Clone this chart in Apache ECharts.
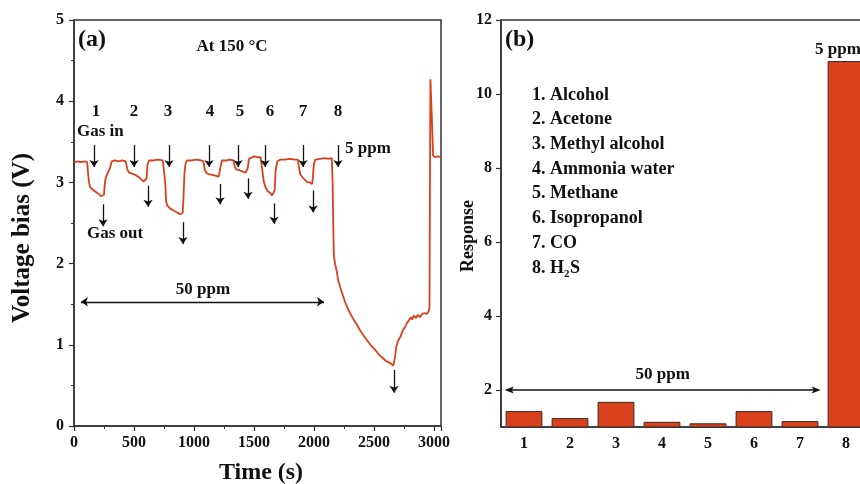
<!DOCTYPE html>
<html>
<head>
<meta charset="utf-8">
<script src="https://cdn.jsdelivr.net/npm/echarts@6/dist/echarts.min.js"></script>
<style>
html, body { margin: 0; padding: 0; background: #ffffff; }
#chart { width: 860px; height: 484px; }
</style>
</head>
<body>
<div id="chart"></div>
<script>
// ---- Panel (a): voltage bias transient at 150 °C ----
const timeS = [
  0, 30, 60, 90, 110, 118, 125, 135, 150, 165, 180, 195, 210, 225, 240, 250, 258, 265, 280, 300, 315,
  340, 370, 400, 430, 445, 458, 480, 500, 525, 545, 560, 580, 595, 605, 612, 625,
  660, 700, 740, 752, 760, 768, 780, 800, 833, 860, 880, 895, 905, 912, 920, 930, 942,
  980, 1020, 1060, 1078, 1090, 1108, 1130, 1160, 1185, 1205, 1215, 1222, 1233,
  1270, 1300, 1328, 1338, 1350, 1380, 1410, 1430, 1442, 1448, 1458, 1470,
  1500, 1530, 1555, 1565, 1580, 1595, 1615, 1635, 1650, 1665, 1672, 1680, 1695, 1717,
  1760, 1800, 1840, 1865, 1875, 1885, 1905, 1925, 1945, 1965, 1983, 1990, 1998, 2010,
  2050, 2090, 2120, 2148, 2155, 2160, 2165, 2175, 2190, 2200, 2220, 2240, 2258, 2280, 2300,
  2330, 2360, 2383, 2410, 2440, 2470, 2508, 2540, 2570, 2600, 2617, 2640, 2660, 2667,
  2675, 2685, 2700, 2720, 2740, 2758, 2775, 2790, 2805, 2817, 2830, 2850, 2865, 2883,
  2900, 2920, 2940, 2955, 2962, 2966, 2970, 2978, 2984, 2992, 3010, 3030, 3058
];
const voltage = [
  3.25, 3.26, 3.25, 3.26, 3.25, 3.10, 3.00, 2.94, 2.92, 2.90, 2.89, 2.87, 2.86, 2.83, 2.82, 2.85, 3.00, 3.06, 3.08, 3.18, 3.26,
  3.27, 3.26, 3.27, 3.26, 3.16, 3.12, 3.11, 3.10, 3.08, 3.06, 3.04, 3.01, 3.01, 3.05, 3.22, 3.27,
  3.27, 3.28, 3.27, 3.25, 3.00, 2.76, 2.71, 2.68, 2.65, 2.63, 2.61, 2.63, 2.62, 2.80, 3.10, 3.24, 3.27,
  3.27, 3.28, 3.27, 3.26, 3.15, 3.11, 3.10, 3.09, 3.08, 3.07, 3.09, 3.20, 3.27,
  3.27, 3.28, 3.27, 3.20, 3.16, 3.15, 3.13, 3.12, 3.11, 3.18, 3.29, 3.31,
  3.32, 3.31, 3.31, 3.20, 3.02, 2.94, 2.89, 2.87, 2.84, 2.82, 2.90, 3.15, 3.26, 3.28,
  3.28, 3.29, 3.28, 3.28, 3.18, 3.10, 3.06, 3.03, 3.00, 3.00, 2.98, 3.05, 3.22, 3.28,
  3.29, 3.30, 3.29, 3.30, 3.00, 2.50, 2.10, 2.00, 1.90, 1.80, 1.70, 1.61, 1.53, 1.45, 1.39,
  1.31, 1.24, 1.18, 1.12, 1.06, 1.00, 0.94, 0.88, 0.84, 0.80, 0.79, 0.77, 0.74, 0.73,
  0.85, 0.97, 1.05, 1.10, 1.18, 1.22, 1.27, 1.30, 1.34, 1.31, 1.36, 1.33, 1.37, 1.34,
  1.38, 1.39, 1.38, 1.41, 1.45, 3.00, 4.27, 4.26, 3.70, 3.33, 3.31, 3.32, 3.31
];
// gas-in arrows: [time, top, tip]
const gasInArrows = [
  [167, 3.46, 3.19], [500, 3.46, 3.19], [792, 3.46, 3.19], [1125, 3.46, 3.19],
  [1367, 3.46, 3.19], [1592, 3.46, 3.19], [1908, 3.46, 3.19], [2200, 3.46, 3.19]
];
// gas-out arrows: [time, top, tip]
const gasOutArrows = [
  [242, 2.73, 2.46], [617, 2.96, 2.70], [908, 2.51, 2.24], [1217, 2.98, 2.73],
  [1450, 3.05, 2.80], [1667, 2.74, 2.49], [1992, 2.90, 2.63], [2667, 0.69, 0.41]
];
const leftSpan = [58, 2083, 1.53];

// ---- Panel (b): response to each gas ----
const gasLabels = ['1. Alcohol', '2. Acetone', '3. Methyl alcohol', '4. Ammonia water',
  '5. Methane', '6. Isopropanol', '7. CO'];
const barCategories = ['1', '2', '3', '4', '5', '6', '7', '8'];
const responses = [1.43, 1.24, 1.68, 1.14, 1.10, 1.43, 1.16, 10.89];
const rightMajorTicks = [2, 4, 6, 8, 10, 12];
const rightMinorTicks = [3, 5, 7, 9, 11];
// double arrow over bars 1-7, in category units (0 = first bar centre)
const rightSpan = [-0.42, 6.45, 2.0];

const SERIF = '"Liberation Serif", "Times New Roman", serif';
const INK = '#111111';
const AXIS = '#333333';
const RED = '#d9401c';

const chart = echarts.init(document.getElementById('chart'), null, { renderer: 'canvas' });

const axisLineStyle = { show: true, lineStyle: { color: AXIS, width: 1.5 } };
const tickFont = { color: INK, fontFamily: SERIF, fontWeight: 'bold', fontSize: 16, formatter: v => String(v) };

const arrowLine = (list) => list.map(a => [
  { coord: [a[0], a[1]] },
  { coord: [a[0], a[2]] }
]);

const option = {
  animation: false,
  backgroundColor: '#ffffff',
  grid: [
    { left: 74, top: 20, width: 367, height: 406, show: true, borderColor: AXIS, borderWidth: 1.5,
      backgroundColor: 'transparent', outerBoundsMode: 'none' },
    { left: 501, top: 20, width: 368, height: 407, show: true, borderColor: AXIS, borderWidth: 1.5,
      backgroundColor: 'transparent', outerBoundsMode: 'none' }
  ],
  xAxis: [
    {
      type: 'value', gridIndex: 0, min: 0, max: 3058, interval: 500,
      axisLine: axisLineStyle,
      axisTick: { show: true, length: 5, lineStyle: { color: AXIS, width: 1.2 } },
      minorTick: { show: true, splitNumber: 2, length: 3, lineStyle: { color: AXIS, width: 1 } },
      axisLabel: Object.assign({ margin: 9 }, tickFont),
      splitLine: { show: false }
    },
    {
      type: 'category', gridIndex: 1, data: barCategories,
      axisLine: axisLineStyle,
      axisTick: { show: false },
      axisLabel: Object.assign({ margin: 9 }, tickFont),
      splitLine: { show: false }
    }
  ],
  yAxis: [
    {
      type: 'value', gridIndex: 0, min: 0, max: 5, interval: 1,
      axisLine: axisLineStyle,
      axisTick: { show: true, length: 5, lineStyle: { color: AXIS, width: 1.2 } },
      minorTick: { show: true, splitNumber: 2, length: 3, lineStyle: { color: AXIS, width: 1 } },
      axisLabel: Object.assign({ margin: 10 }, tickFont),
      splitLine: { show: false }
    },
    {
      type: 'value', gridIndex: 1, min: 1, max: 12,
      axisLine: axisLineStyle,
      axisTick: { show: true, length: 5, customValues: rightMajorTicks, lineStyle: { color: AXIS, width: 1.2 } },
      axisLabel: Object.assign({ margin: 9, customValues: rightMajorTicks }, tickFont),
      splitLine: { show: false }
    },
    {
      type: 'value', gridIndex: 1, min: 1, max: 12,
      axisLine: { show: false },
      axisTick: { show: true, length: 3, customValues: rightMinorTicks, lineStyle: { color: AXIS, width: 1 } },
      axisLabel: { show: false },
      splitLine: { show: false }
    }
  ],
  series: [
    {
      type: 'line', xAxisIndex: 0, yAxisIndex: 0,
      data: timeS.map((t, i) => [t, voltage[i]]),
      showSymbol: false, symbol: 'none',
      lineStyle: { color: RED, width: 1.8 },
      z: 3,
      markLine: {
        silent: true, animation: false,
        symbol: ['none', 'arrow'], symbolSize: 7,
        label: { show: false },
        lineStyle: { color: INK, width: 1.3, type: 'solid' },
        data: arrowLine(gasInArrows).concat(arrowLine(gasOutArrows)).concat([
          [
            { coord: [leftSpan[0], leftSpan[2]], symbol: 'arrow' },
            { coord: [leftSpan[1], leftSpan[2]], symbol: 'arrow' }
          ]
        ])
      }
    },
    {
      type: 'bar', xAxisIndex: 1, yAxisIndex: 1,
      data: responses,
      barWidth: '80%',
      itemStyle: { color: RED, borderColor: '#3a2a25', borderWidth: 1 }
    }
  ]
};
chart.setOption(option);

// ---- text annotations ----
const txt = (text, x, y, size, align, extra) => Object.assign({
  type: 'text', x: x, y: y, silent: true,
  style: {
    text: text, fill: INK,
    font: 'bold ' + size + 'px ' + SERIF,
    textAlign: align || 'left', textVerticalAlign: 'middle'
  }
}, extra || {});

const gasNumberTimes = [183, 500, 783, 1133, 1383, 1633, 1908, 2200];
const graphics = [];

// panel (a)
graphics.push(txt('(a)', 78, 40, 24, 'left'));
graphics.push(txt('At 150 °C', 232, 47, 17, 'center'));
gasNumberTimes.forEach((t, i) => {
  const p = chart.convertToPixel({ xAxisIndex: 0, yAxisIndex: 0 }, [t, 3.87]);
  graphics.push(txt(String(i + 1), p[0], p[1], 17, 'center'));
});
graphics.push(txt('Gas in', 77, 132, 17, 'left'));
graphics.push(txt('5 ppm', 345, 149, 17, 'left'));
graphics.push(txt('Gas out', 87, 234, 17, 'left'));
graphics.push(txt('50 ppm', 203, 290, 17, 'center'));
graphics.push(txt('Time (s)', 261, 473, 24, 'center'));
graphics.push(txt('Voltage bias (V)', 23, 238, 25, 'center', { rotation: Math.PI / 2 }));

// panel (b)
graphics.push(txt('(b)', 505, 40, 24, 'left'));
gasLabels.forEach((name, i) => {
  graphics.push(txt(name, 532, 95 + i * 24.7, 18, 'left'));
});
const h2sY = 95 + 7 * 24.7;
graphics.push(txt('8. H', 532, h2sY, 18, 'left'));
graphics.push(txt('2', 564, h2sY + 6, 11, 'left'));
graphics.push(txt('S', 570, h2sY, 18, 'left'));
graphics.push(txt('5 ppm', 815, 50, 17, 'left'));
graphics.push(txt('Response', 468, 236, 18, 'center', { rotation: Math.PI / 2 }));

// double-headed arrow across bars 1-7, placed from the category axis
const c0 = chart.convertToPixel({ xAxisIndex: 1, yAxisIndex: 1 }, [0, rightSpan[2]]);
const c1 = chart.convertToPixel({ xAxisIndex: 1, yAxisIndex: 1 }, [1, rightSpan[2]]);
const band = c1[0] - c0[0];
const ax0 = c0[0] + rightSpan[0] * band;
const ax1 = c0[0] + rightSpan[1] * band;
const ay = c0[1];
graphics.push(txt('50 ppm', (ax0 + ax1) / 2, ay - 15, 17, 'center'));
graphics.push({ type: 'line', silent: true, shape: { x1: ax0 + 4, y1: ay, x2: ax1 - 4, y2: ay },
  style: { stroke: INK, lineWidth: 1.3 } });
graphics.push({ type: 'polygon', silent: true,
  shape: { points: [[ax0, ay], [ax0 + 9, ay - 3.5], [ax0 + 7, ay], [ax0 + 9, ay + 3.5]] },
  style: { fill: INK } });
graphics.push({ type: 'polygon', silent: true,
  shape: { points: [[ax1, ay], [ax1 - 9, ay - 3.5], [ax1 - 7, ay], [ax1 - 9, ay + 3.5]] },
  style: { fill: INK } });

chart.setOption({ graphic: { elements: graphics } });
</script>
</body>
</html>
